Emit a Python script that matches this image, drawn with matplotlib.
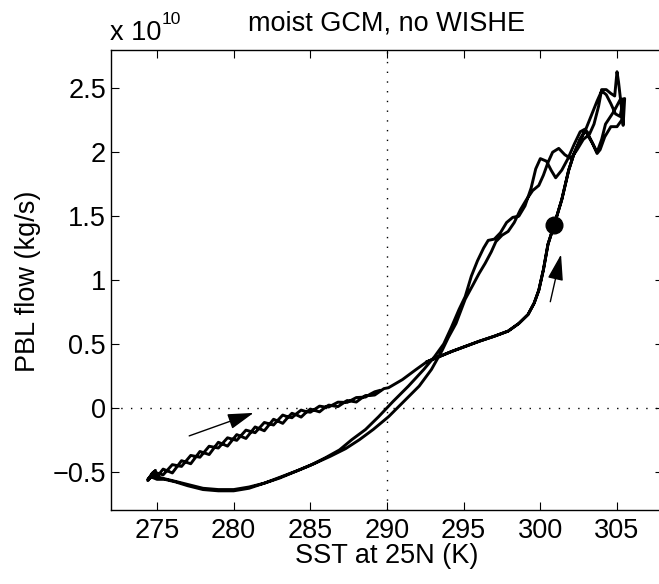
import matplotlib
matplotlib.use("Agg")
import matplotlib.pyplot as plt

plt.rcParams['font.family'] = ['Liberation Sans', 'DejaVu Sans']

# ---- data (SST in K, PBL flow in units of 1e10 kg/s) ----
lr_sst = [292.6, 293.4, 294.2, 295.1, 296.0, 297.0, 297.9, 298.6, 299.2, 299.6, 299.9,
          300.2, 300.5, 300.9, 301.4, 301.85, 302.2, 302.6]
lr_pbl = [0.36, 0.40, 0.44, 0.48, 0.52, 0.56, 0.60, 0.66, 0.73, 0.82, 0.92,
          1.08, 1.28, 1.43, 1.63, 1.86, 1.99, 2.10]

top1_sst = [302.9, 303.2, 303.7, 304.0, 304.25, 304.8, 305.2, 305.5, 305.4, 305.3, 305.1,
            305.0, 304.85, 304.6, 304.3, 304.0, 303.8, 303.5, 303.2, 302.9, 302.6]
top1_pbl = [2.17, 2.12, 2.00, 2.10, 2.22, 2.32, 2.41, 2.42, 2.21, 2.34, 2.55,
            2.63, 2.44, 2.46, 2.49, 2.49, 2.36, 2.22, 2.14, 2.18, 2.16]

descL_sst = [302.2, 301.8, 301.4, 301.0, 300.7, 300.4, 300.0, 299.7, 299.4, 299.0, 298.6,
             298.2, 297.8, 297.4, 297.0, 296.6, 296.3, 295.9, 295.5, 295.1, 294.7, 294.2,
             293.7, 293.1, 292.4, 291.4, 290.4, 289.45, 288.6]
descL_pbl = [2.06, 1.95, 1.86, 1.80, 1.86, 1.93, 1.95, 1.87, 1.72, 1.58, 1.50,
             1.49, 1.45, 1.37, 1.32, 1.31, 1.25, 1.15, 1.03, 0.87, 0.77, 0.63,
             0.50, 0.40, 0.30, 0.17, 0.05, -0.07, -0.17]

bot1_sst = [287.7, 286.9, 286.0, 285.0, 284.0, 283.0, 282.0, 281.0, 280.0, 279.0, 278.0,
            277.0, 276.2, 275.5, 275.0, 274.6, 274.9, 274.4, 274.7]
bot1_pbl = [-0.25, -0.33, -0.39, -0.45, -0.50, -0.55, -0.59, -0.63, -0.65, -0.65, -0.64,
            -0.61, -0.58, -0.56, -0.56, -0.54, -0.49, -0.57, -0.51]

wig1_sst = [275.1, 275.4, 275.7, 276.0, 276.3, 276.6, 276.9, 277.2, 277.5, 277.8, 278.1,
            278.4, 278.7, 279.0, 279.3, 279.6, 279.9, 280.2, 280.5, 280.8, 281.1, 281.4,
            281.7, 282.0, 282.3, 282.6, 282.9, 283.2, 283.5, 283.8, 284.1, 284.4, 284.7,
            285.0, 285.3, 285.6, 285.9, 286.2, 286.5, 286.8, 287.1, 287.4, 287.7, 288.0,
            288.3, 288.6, 288.9, 289.2, 289.5, 289.8, 290.1, 290.4, 290.7, 291.0, 291.3,
            291.6, 291.9]
wig1_pbl = [-0.525, -0.48, -0.495, -0.51, -0.462, -0.414, -0.426, -0.438, -0.39, -0.342,
            -0.354, -0.366, -0.318, -0.27, -0.285, -0.30, -0.255, -0.21, -0.225, -0.24,
            -0.195, -0.15, -0.165, -0.18, -0.135, -0.09, -0.105, -0.122, -0.08, -0.043,
            -0.056, -0.073, -0.039, -0.01, -0.021, -0.032, -0.003, 0.021, 0.015, 0.009,
            0.033, 0.057, 0.051, 0.045, 0.072, 0.096, 0.096, 0.10, 0.125, 0.15, 0.157,
            0.178, 0.199, 0.22, 0.247, 0.274, 0.30]

top2_sst = [302.9, 303.3, 303.7, 304.0, 304.3, 304.6, 304.9, 305.2, 305.4, 305.3, 305.0,
            304.6, 304.2, 303.9, 303.7, 303.4, 303.1, 302.8]
top2_pbl = [2.16, 2.28, 2.40, 2.48, 2.45, 2.38, 2.30, 2.28, 2.40, 2.25, 2.20,
            2.20, 2.12, 2.02, 1.99, 2.07, 2.13, 2.10]

descR_sst = [302.4, 302.0, 301.6, 301.2, 300.8, 300.5, 300.2, 299.9, 299.5, 299.1, 298.7,
             298.3, 297.9, 297.5, 297.1, 296.8, 296.4, 296.0, 295.6, 295.1, 294.5, 294.0,
             293.6, 292.9, 292.1, 291.1, 290.1, 289.1]
descR_pbl = [2.02, 1.95, 1.98, 2.03, 2.00, 1.92, 1.82, 1.74, 1.70, 1.63, 1.55,
             1.45, 1.38, 1.35, 1.30, 1.22, 1.13, 1.05, 0.96, 0.85, 0.66, 0.55,
             0.45, 0.30, 0.17, 0.05, -0.07, -0.17]

bot2_sst = [288.2, 287.3, 286.3, 285.2, 284.2, 283.1, 282.0, 281.0, 280.0, 279.0, 278.0,
            277.0, 276.0, 275.3, 274.8, 274.4, 274.8]
bot2_pbl = [-0.25, -0.32, -0.38, -0.44, -0.49, -0.54, -0.59, -0.62, -0.64, -0.64, -0.63,
            -0.60, -0.57, -0.55, -0.53, -0.56, -0.50]

wig2_sst = [275.1, 275.4, 275.7, 276.0, 276.3, 276.6, 276.9, 277.2, 277.5, 277.8, 278.1,
            278.4, 278.7, 279.0, 279.3, 279.6, 279.9, 280.2, 280.5, 280.8, 281.1, 281.4,
            281.7, 282.0, 282.3, 282.6, 282.9, 283.2, 283.5, 283.8, 284.1, 284.4, 284.7,
            285.0, 285.3, 285.6, 285.9, 286.2, 286.5, 286.8, 287.1, 287.4, 287.7, 288.0,
            288.3, 288.6, 288.9, 289.2, 289.5]
wig2_pbl = [-0.515, -0.525, -0.485, -0.445, -0.452, -0.459, -0.416, -0.373, -0.38, -0.387,
            -0.344, -0.301, -0.308, -0.315, -0.275, -0.235, -0.245, -0.255, -0.215, -0.175,
            -0.185, -0.195, -0.155, -0.115, -0.125, -0.135, -0.095, -0.057, -0.07, -0.078,
            -0.046, -0.018, -0.029, -0.035, -0.011, 0.013, 0.007, 0.006, 0.025, 0.044,
            0.043, 0.042, 0.061, 0.08, 0.082, 0.084, 0.106, 0.125, 0.135]

start_sst, start_pbl = 300.9, 1.43
arrow1_from, arrow1_to = (277.1, -0.22), (281.3, -0.04)
arrow2_from, arrow2_to = (300.65, 0.83), (301.35, 1.20)

xticks = [275, 280, 285, 290, 295, 300, 305]
yticks = [-0.5, 0, 0.5, 1, 1.5, 2, 2.5]
ytick_labels = ['\u22120.5', '0', '0.5', '1', '1.5', '2', '2.5']

sst = (lr_sst + top1_sst + descL_sst + bot1_sst + wig1_sst + lr_sst + top2_sst
       + descR_sst + bot2_sst + wig2_sst)
pbl = (lr_pbl + top1_pbl + descL_pbl + bot1_pbl + wig1_pbl + lr_pbl + top2_pbl
       + descR_pbl + bot2_pbl + wig2_pbl)

# ---- figure ----
W, H = 659, 584
FS = 19.5
fig = plt.figure(figsize=(W / 100, H / 100), dpi=100)
ax = fig.add_axes([111 / W, 74 / H, (663 - 111) / W, 460 / H])

ax.plot(sst, pbl, color='black', lw=2.1, solid_joinstyle='round', zorder=3)
ax.plot([start_sst], [start_pbl], 'o', color='black', ms=12, zorder=4)

dots = (0, (1, 6))
ax.axvline(290, color='black', lw=1.0, ls=dots, zorder=1)
ax.axhline(0, color='black', lw=1.0, ls=dots, zorder=1)

for a, b in [(arrow1_from, arrow1_to), (arrow2_from, arrow2_to)]:
    ax.annotate('', xy=b, xytext=a,
                arrowprops=dict(arrowstyle='-|>,head_length=1.0,head_width=0.3',
                                lw=1.0, color='black', mutation_scale=16,
                                shrinkA=0, shrinkB=0))

ax.set_xlim(272, 308)
ax.set_ylim(-0.8, 2.8)
ax.set_xticks(xticks)
ax.set_yticks(yticks)
ax.set_yticklabels(ytick_labels)
ax.tick_params(direction='in', length=5.5, width=0.8, top=True, right=True,
               labelsize=FS)
ax.tick_params(axis='x', pad=6)
ax.tick_params(axis='y', pad=3.6)
for s in ax.spines.values():
    s.set_linewidth(1.0)

fig.text(387 / W, 1 - 563 / H, 'SST at 25N (K)', fontsize=FS, ha='center',
         va='baseline')
fig.text(28 / W, 1 - 281 / H, 'PBL flow (kg/s)', fontsize=FS, ha='center',
         va='center', rotation=90)
fig.text(387 / W, 1 - 30 / H, 'moist GCM, no WISHE', fontsize=FS, ha='center',
         va='baseline')
fig.text(110 / W, 1 - 40 / H, 'x 10', fontsize=FS, ha='left', va='baseline')
fig.text(162 / W, 1 - 24 / H, '10', fontsize=12.5, ha='left', va='baseline')

fig.savefig('out.png', dpi=100)
